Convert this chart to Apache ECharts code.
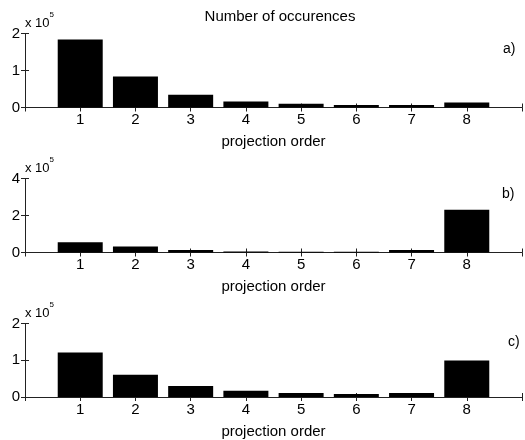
<!DOCTYPE html>
<html>
<head>
<meta charset="utf-8">
<script src="https://cdn.jsdelivr.net/npm/echarts@6/dist/echarts.min.js"></script>
<style>
  html, body { margin: 0; padding: 0; background: #fff; }
  #chart { width: 525px; height: 440px; }
</style>
</head>
<body>
<div id="chart"></div>
<script>
// projection orders on the x axis
const orders = [1, 2, 3, 4, 5, 6, 7, 8]
// number of occurences per panel (raw counts)
const countsA = [184000, 83500, 34500, 16000, 10000, 7000, 7000, 13500]
const countsB = [56000, 32000, 13000, 5000, 4000, 4000, 13000, 231000]
const countsC = [121000, 60500, 30000, 17000, 11000, 8000, 11000, 99000]
const yMax = [200000, 400000, 200000]
const yStep = [100000, 200000, 100000]
const panelTags = ['a)', 'b)', 'c)']

const FONT = 'Liberation Sans, Arial, sans-serif'
const LINE = '#222'
const panels = [countsA, countsB, countsC]
const gridTop = [33.5, 178.5, 323.5]
const tagPos = [[498, 37], [497, 182], [503, 330]]

let grids = []
let xAxes = []
let yAxes = []
let series = []
let titles = [{
  text: 'Number of occurences',
  left: 275,
  top: 4,
  textAlign: 'center',
  textStyle: { fontFamily: FONT, fontSize: 15, fontWeight: 'normal', color: '#000' },
}]

panels.map((counts, i) => {
  grids.push({ left: 25, top: gridTop[i], width: 501, height: 74 })
  // bottom axis with labels, top axis as the box edge
  ;['bottom', 'top'].map((pos) => {
    xAxes.push({
      type: 'value',
      gridIndex: i,
      position: pos,
      min: 0,
      max: 9,
      interval: 1,
      name: pos === 'bottom' ? 'projection order' : '',
      nameLocation: 'middle',
      nameGap: 27,
      nameTextStyle: { fontFamily: FONT, fontSize: 15, color: '#000' },
      axisLine: { show: true, lineStyle: { color: LINE, width: 1 } },
      axisTick: { show: true, inside: true, length: 4, lineStyle: { color: LINE } },
      axisLabel: {
        show: pos === 'bottom',
        margin: 5,
        fontFamily: FONT,
        fontSize: 15,
        color: '#000',
        formatter: (v) => (v >= 1 && v <= 8 ? String(v) : ''),
      },
      splitLine: { show: false },
    })
  })
  ;['left', 'right'].map((pos) => {
    yAxes.push({
      type: 'value',
      gridIndex: i,
      position: pos,
      min: 0,
      max: yMax[i],
      interval: yStep[i],
      name: pos === 'left' ? '{a|x 10}{b|5}' : '',
      nameLocation: 'end',
      nameGap: -2,
      nameMoveOverlap: false,
      nameTextStyle: {
        align: 'left',
        verticalAlign: 'bottom',
        rich: {
          a: { fontFamily: FONT, fontSize: 13, color: '#000' },
          b: { fontFamily: FONT, fontSize: 8, color: '#000', padding: [0, 0, 17, 0] },
        },
      },
      axisLine: { show: true, lineStyle: { color: LINE, width: 1 } },
      axisTick: { show: true, inside: true, length: 4, lineStyle: { color: LINE } },
      axisLabel: {
        show: pos === 'left',
        margin: 5,
        fontFamily: FONT,
        fontSize: 15,
        color: '#000',
        formatter: (v) => String(v / 100000),
      },
      splitLine: { show: false },
    })
  })
  series.push({
    type: 'bar',
    xAxisIndex: i * 2,
    yAxisIndex: i * 2,
    barWidth: 45,
    itemStyle: { color: '#000', borderColor: '#000', borderWidth: 0 },
    silent: true,
    data: orders.map((o, k) => [o, counts[k]]),
  })
  titles.push({
    text: panelTags[i],
    left: tagPos[i][0],
    top: tagPos[i][1],
    textStyle: { fontFamily: FONT, fontSize: 14, fontWeight: 'normal', color: '#000' },
  })
})

const chart = echarts.init(document.getElementById('chart'))
chart.setOption({
  animation: false,
  title: titles,
  grid: grids,
  xAxis: xAxes,
  yAxis: yAxes,
  series: series,
})
</script>
</body>
</html>
